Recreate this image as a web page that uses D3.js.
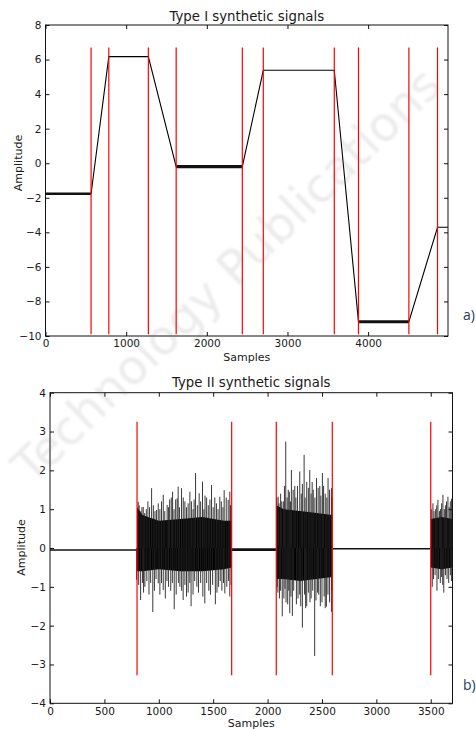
<!DOCTYPE html>
<html>
<head>
<meta charset="utf-8">
<script src="https://cdn.jsdelivr.net/npm/d3@7"></script>
<style>
  body { margin: 0; background: #fff; }
  svg { font-family: "DejaVu Sans", sans-serif; }
</style>
</head>
<body>
<svg id="chart" width="476" height="729"></svg>
<script>
// ---- Type I : piecewise signal (breakpoints)
const typeISamples   = [0, 565, 785, 1275, 1620, 2440, 2700, 3580, 3880, 4505, 4860, 4990]
const typeIAmplitude = [-1.77, -1.77, 6.17, 6.17, -0.20, -0.20, 5.38, 5.38, -9.17, -9.17, -3.71, -3.71]
const typeIChanges   = [565, 785, 1275, 1620, 2440, 2700, 3580, 3880, 4505, 4860]
const typeIChangeSpan = [-9.9, 6.7]
// noisy flat parts: from, to, level, half spread
const typeINoiseFrom   = [0, 1620, 3880]
const typeINoiseTo     = [565, 2440, 4505]
const typeINoiseLevel  = [-1.77, -0.20, -9.17]
const typeINoiseSpread = [0.075, 0.09, 0.085]
const typeIXTicks = [0, 1000, 2000, 3000, 4000]
const typeIYTicks = [-10, -8, -6, -4, -2, 0, 2, 4, 6, 8]

// ---- Type II : quiet parts + bursts
const typeIIChanges = [800, 1670, 2080, 2595, 3500]
const typeIIChangeSpan = [-3.28, 3.25]
const typeIIQuietFrom   = [0, 1670, 2595]
const typeIIQuietTo     = [800, 2080, 3500]
const typeIIQuietLevel  = [-0.05, -0.04, -0.02]
const typeIIQuietSpread = [0.02, 0.035, 0.02]
// dense core of each burst: [sample, lower, upper]
const burst1Core = [[800, -0.6, 1.05], [850, -0.6, 0.85], [1000, -0.55, 0.7], [1200, -0.6, 0.75], [1400, -0.6, 0.8], [1600, -0.55, 0.7], [1670, -0.5, 0.7]]
const burst2Core = [[2080, -0.8, 1.1], [2150, -0.8, 1.0], [2300, -0.85, 0.95], [2450, -0.8, 0.9], [2595, -0.75, 0.85]]
const burst3Core = [[3500, -0.5, 0.75], [3600, -0.55, 0.8], [3700, -0.5, 0.75]]
// spikes sticking out of the cores: [sample, amplitude]
const burst1Spikes = [
  [811, 1.19], [857, 1.06], [900, 1.2], [934, 1.54], [980, 0.98], [1041, 1.37], [1077, 1.11], [1100, 1.25],
  [1127, 1.45], [1169, 1.28], [1178, 1.58], [1209, 1.54], [1240, 1.2], [1270, 1.15], [1286, 1.45], [1338, 1.93],
  [1371, 1.41], [1402, 1.71], [1440, 1.3], [1485, 1.62], [1530, 1.15], [1561, 1.32], [1601, 1.49], [1638, 1.24],
  [1653, 1.45],
  [820, 1.1], [835, 0.95], [845, 1.05], [870, 0.9], [885, 1.0], [915, 1.05], [950, 1.1], [965, 0.95], [995, 1.15],
  [1010, 1.0], [1025, 1.2], [1055, 0.95], [1090, 1.05], [1115, 1.3], [1140, 1.0], [1155, 1.25], [1190, 1.05],
  [1225, 1.3], [1255, 1.05], [1300, 1.2], [1315, 1.0], [1325, 1.25], [1355, 1.1], [1385, 1.2], [1415, 1.0],
  [1425, 1.35], [1455, 1.1], [1470, 1.25], [1500, 1.05], [1515, 1.3], [1545, 1.0], [1575, 1.2], [1590, 1.05],
  [1620, 1.3], [1660, 1.1],
  [796, -0.82], [833, -1.34], [872, -1.0], [945, -1.65], [995, -0.91], [1041, -1.08], [1090, -1.0], [1142, -1.58],
  [1194, -1.0], [1224, -1.34], [1255, -1.25], [1297, -1.5], [1350, -1.0], [1423, -1.43], [1460, -1.1], [1520, -1.45],
  [1550, -1.0], [1607, -1.17], [1653, -1.25],
  [815, -0.95], [850, -0.9], [860, -1.15], [890, -0.85], [910, -1.2], [925, -0.9], [960, -1.1], [975, -0.8],
  [1010, -1.2], [1025, -0.9], [1060, -1.3], [1075, -0.85], [1110, -1.1], [1125, -0.9], [1160, -1.2], [1180, -0.9],
  [1210, -1.1], [1240, -0.95], [1270, -1.15], [1285, -0.9], [1315, -1.2], [1330, -0.85], [1365, -1.15], [1385, -0.9],
  [1405, -1.25], [1440, -0.9], [1475, -1.2], [1495, -0.95], [1535, -1.15], [1565, -0.85], [1580, -1.1], [1595, -0.9],
  [1625, -1.0], [1640, -0.85], [1665, -0.95]
]
const burst2Spikes = [
  [2097, 1.32], [2130, 1.2], [2167, 2.74], [2190, 1.5], [2219, 2.01], [2250, 1.6], [2296, 1.97], [2336, 2.40],
  [2360, 1.7], [2388, 2.01], [2420, 1.5], [2450, 1.8], [2480, 1.6], [2504, 1.93], [2530, 1.4], [2556, 1.80], [2587, 1.54],
  [2085, 1.3], [2105, 1.15], [2120, 1.4], [2145, 1.2], [2155, 1.6], [2180, 1.3], [2200, 1.45], [2210, 1.2],
  [2235, 1.5], [2260, 1.3], [2275, 1.6], [2310, 1.4], [2320, 1.65], [2345, 1.3], [2375, 1.55], [2400, 1.4],
  [2410, 1.7], [2435, 1.3], [2465, 1.55], [2490, 1.35], [2515, 1.6], [2545, 1.3], [2570, 1.5], [2592, 1.3],
  [2088, -1.0], [2110, -1.3], [2135, -1.76], [2170, -1.4], [2204, -1.68], [2228, -1.75], [2280, -1.3], [2320, -2.05],
  [2360, -1.5], [2400, -1.3], [2433, -2.78], [2470, -1.2], [2500, -1.4], [2541, -1.51], [2587, -1.64],
  [2095, -1.15], [2120, -1.1], [2150, -1.3], [2160, -1.05], [2185, -1.45], [2195, -1.1], [2215, -1.25], [2240, -1.1],
  [2265, -1.45], [2295, -1.2], [2305, -1.5], [2340, -1.2], [2350, -1.55], [2375, -1.15], [2390, -1.4], [2415, -1.1],
  [2445, -1.35], [2460, -1.15], [2485, -1.5], [2520, -1.25], [2530, -1.55], [2555, -1.2], [2570, -1.4], [2592, -1.1]
]
const burst3Spikes = [
  [3520, 1.15], [3545, 1.0], [3566, 1.24], [3590, 1.0], [3612, 1.37], [3635, 1.1], [3658, 1.32], [3690, 1.27],
  [3505, 1.0], [3530, 0.95], [3555, 1.1], [3580, 0.95], [3600, 1.15], [3625, 1.0], [3645, 1.2], [3670, 1.05], [3680, 1.2],
  [3514, -1.0], [3557, -1.1], [3570, -0.8], [3588, -0.9], [3620, -1.15], [3650, -0.8], [3690, -0.85],
  [3525, -0.8], [3540, -0.7], [3600, -0.75], [3610, -0.95], [3635, -0.7], [3665, -0.9], [3680, -0.7]
]
const typeIIXTicks = [0, 500, 1000, 1500, 2000, 2500, 3000, 3500]
const typeIIYTicks = [-4, -3, -2, -1, 0, 1, 2, 3, 4]

const svg = d3.select("#chart")

function drawPanel(p) {
  let x = d3.scaleLinear().domain([0, p.xMax]).range([p.left, p.right])
  let y = d3.scaleLinear().domain([p.yMin, p.yMax]).range([p.bottom, p.top])
  let g = svg.append("g")

  g.append("clipPath").attr("id", p.id)
    .append("rect")
    .attr("x", p.left).attr("y", p.top)
    .attr("width", p.right - p.left).attr("height", p.bottom - p.top)

  let plot = g.append("g").attr("clip-path", `url(#${p.id})`)
  let fmt = d3.format("d")

  let axes = [
    [d3.axisBottom(x).tickValues(p.xTicks).tickFormat(fmt), `translate(0,${p.bottom})`, true],
    [d3.axisTop(x).tickValues(p.xTicks).tickFormat(""), `translate(0,${p.top})`, false],
    [d3.axisLeft(y).tickValues(p.yTicks).tickFormat(fmt), `translate(${p.left},0)`, true],
    [d3.axisRight(y).tickValues(p.yTicks).tickFormat(""), `translate(${p.right},0)`, false]
  ]
  axes.forEach(function(a) {
    let ax = g.append("g")
      .attr("transform", a[1])
      .call(a[0].tickSize(-4).tickPadding(a[2] ? 4 : 0))
    ax.select(".domain").remove()
    ax.selectAll("line").attr("stroke", "#111")
    ax.selectAll("text")
      .attr("fill", "#1a1a1a")
      .style("font-size", "10.5px")
      .style("font-family", "DejaVu Sans, sans-serif")
  })

  g.append("rect")
    .attr("x", p.left).attr("y", p.top)
    .attr("width", p.right - p.left).attr("height", p.bottom - p.top)
    .attr("fill", "none")
    .attr("stroke", "#111")

  g.append("text")
    .attr("x", (p.left + p.right) / 2).attr("y", p.titleY)
    .attr("text-anchor", "middle")
    .style("font-size", "13.3px")
    .attr("fill", "#1a1a1a")
    .text(p.title)

  g.append("text")
    .attr("x", (p.left + p.right) / 2).attr("y", p.xLabelY)
    .attr("text-anchor", "middle")
    .style("font-size", "11px")
    .attr("fill", "#1a1a1a")
    .text("Samples")

  g.append("text")
    .attr("transform", `translate(${p.yLabelX}, ${p.yLabelY}) rotate(-90)`)
    .attr("text-anchor", "middle")
    .style("font-size", "11px")
    .attr("fill", "#1a1a1a")
    .text("Amplitude")

  g.append("text")
    .attr("x", 463).attr("y", p.tagY)
    .style("font-size", "14px")
    .style("font-family", "Open Sans, sans-serif")
    .attr("fill", "#243a5c")
    .text(p.tag)

  return {plot: plot, x: x, y: y}
}

function drawChanges(panel, changes, span) {
  panel.plot.append("g")
    .selectAll("line")
    .data(changes)
    .enter()
    .append("line")
    .attr("x1", function(d) { return panel.x(d) })
    .attr("x2", function(d) { return panel.x(d) })
    .attr("y1", panel.y(span[0]))
    .attr("y2", panel.y(span[1]))
    .attr("stroke", "#ff0000")
    .attr("stroke-width", 1.2)
}

function drawBands(panel, from, to, level, spread) {
  let band = d3.area()
    .x(function(d) { return panel.x(d[0]) })
    .y0(function(d) { return panel.y(d[1] - d[2]) })
    .y1(function(d) { return panel.y(d[1] + d[2]) })
  for (let i = 0; i < from.length; i++) {
    panel.plot.append("path")
      .datum([[from[i], level[i], spread[i]], [to[i], level[i], spread[i]]])
      .attr("d", band)
      .attr("fill", "#111")
  }
}

// ---------------- panel a
let panelA = drawPanel({
  id: "clipA", left: 45.5, right: 448, top: 25, bottom: 336,
  xMax: 4990, yMin: -10, yMax: 8, xTicks: typeIXTicks, yTicks: typeIYTicks,
  title: "Type I synthetic signals", titleY: 20.5, xLabelY: 361,
  yLabelX: 22, yLabelY: 163, tag: "a)", tagY: 320
})

panelA.plot.append("path")
  .datum(d3.zip(typeISamples, typeIAmplitude))
  .attr("d", d3.line()
    .x(function(d) { return panelA.x(d[0]) })
    .y(function(d) { return panelA.y(d[1]) }))
  .attr("fill", "none")
  .attr("stroke", "#000")
  .attr("stroke-width", 1.1)

drawBands(panelA, typeINoiseFrom, typeINoiseTo, typeINoiseLevel, typeINoiseSpread)
drawChanges(panelA, typeIChanges, typeIChangeSpan)

// ---------------- panel b
let panelB = drawPanel({
  id: "clipB", left: 50, right: 452.5, top: 392.7, bottom: 703.3,
  xMax: 3700, yMin: -4, yMax: 4, xTicks: typeIIXTicks, yTicks: typeIIYTicks,
  title: "Type II synthetic signals", titleY: 387.3, xLabelY: 727,
  yLabelX: 25, yLabelY: 547.5, tag: "b)", tagY: 690
})

drawBands(panelB, typeIIQuietFrom, typeIIQuietTo, typeIIQuietLevel, typeIIQuietSpread)

;[[burst1Core, burst1Spikes], [burst2Core, burst2Spikes], [burst3Core, burst3Spikes]].forEach(function(b) {
  panelB.plot.append("path")
    .datum(b[0])
    .attr("d", d3.area()
      .x(function(d) { return panelB.x(d[0]) })
      .y0(function(d) { return panelB.y(d[1]) })
      .y1(function(d) { return panelB.y(d[2]) }))
    .attr("fill", "#000")

  panelB.plot.append("g")
    .selectAll("line")
    .data(b[1])
    .enter()
    .append("line")
    .attr("x1", function(d) { return panelB.x(d[0]) })
    .attr("x2", function(d) { return panelB.x(d[0]) })
    .attr("y1", panelB.y(0))
    .attr("y2", function(d) { return panelB.y(d[1]) })
    .attr("stroke", "#222")
    .attr("stroke-width", 0.9)
})

drawChanges(panelB, typeIIChanges, typeIIChangeSpan)

// ---------------- faint publisher watermark over everything
let defs = svg.append("defs")
defs.append("filter").attr("id", "soft")
  .append("feGaussianBlur").attr("stdDeviation", 1.3)

svg.append("text")
  .attr("transform", "translate(32, 486) rotate(-44)")
  .attr("filter", "url(#soft)")
  .style("font-size", "48px")
  .style("font-family", "DejaVu Sans, sans-serif")
  .attr("fill", "#777")
  .attr("opacity", 0.14)
  .text("Technology Publications")
</script>
</body>
</html>
